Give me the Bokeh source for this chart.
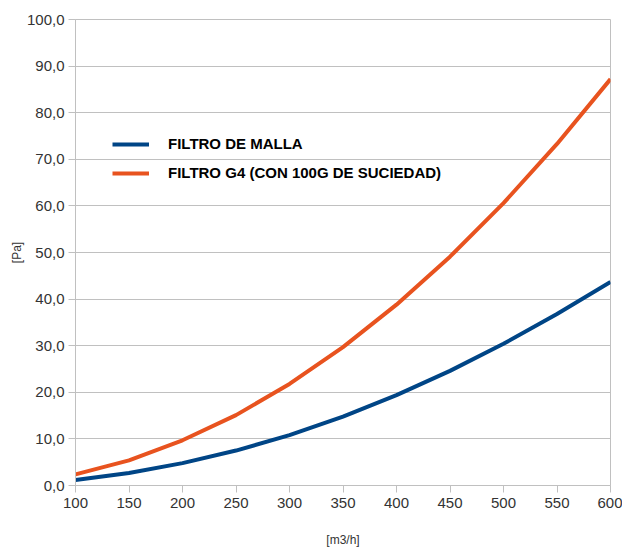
from bokeh.plotting import figure
from bokeh.models import FixedTicker, Range1d, Legend, LegendItem
from bokeh.embed import file_html
from bokeh.resources import INLINE

# ---- data ----
caudal = [100, 150, 200, 250, 300, 350, 400, 450, 500, 550, 600]
filtro_malla = [1.2, 2.7, 4.8, 7.5, 10.8, 14.8, 19.4, 24.6, 30.4, 36.8, 43.7]
filtro_g4 = [2.4, 5.4, 9.7, 15.1, 21.8, 29.7, 38.8, 49.1, 60.6, 73.3, 87.2]
series_names = ["FILTRO DE MALLA", "FILTRO G4 (CON 100G DE SUCIEDAD)"]
x_ticks = [100, 150, 200, 250, 300, 350, 400, 450, 500, 550, 600]
y_ticks = [0, 10, 20, 30, 40, 50, 60, 70, 80, 90, 100]
y_tick_labels = ["0,0", "10,0", "20,0", "30,0", "40,0", "50,0", "60,0",
                 "70,0", "80,0", "90,0", "100,0"]
x_label = "[m3/h]"
y_label = "[Pa]"

FONT = "Liberation Sans"
GRID = "#c0c0c0"
TXT = "#333333"

p = figure(width=622, height=550, output_backend="svg", toolbar_location=None,
           x_range=Range1d(100, 600), y_range=Range1d(0, 100),
           min_border_left=75, min_border_right=12, min_border_top=19,
           min_border_bottom=65)
p.background_fill_color = "white"
p.border_fill_color = "white"
p.outline_line_color = GRID
p.outline_line_width = 1

r1 = p.line(caudal, filtro_malla, line_color="#004586", line_width=4)
r2 = p.line(caudal, filtro_g4, line_color="#e8531f", line_width=4)

# axes
p.xaxis.ticker = FixedTicker(ticks=x_ticks)
p.yaxis.ticker = FixedTicker(ticks=y_ticks)
p.yaxis.major_label_overrides = {v: lab for v, lab in zip(y_ticks, y_tick_labels)}
for ax in (p.xaxis[0], p.yaxis[0]):
    ax.axis_line_color = GRID
    ax.major_tick_line_color = GRID
    ax.minor_tick_line_color = None
    ax.major_tick_in = 0
    ax.major_tick_out = 7
    ax.major_label_text_font = FONT
    ax.major_label_text_font_size = "15px"
    ax.major_label_text_color = TXT
    ax.axis_label_text_font = FONT
    ax.axis_label_text_font_size = "12px"
    ax.axis_label_text_font_style = "normal"
    ax.axis_label_text_color = TXT
p.xaxis.axis_label = x_label
p.yaxis.axis_label = y_label
p.xaxis.major_label_standoff = 5
p.yaxis.major_label_standoff = 4
p.xaxis.axis_label_standoff = 22
p.yaxis.axis_label_standoff = 0

p.xgrid.grid_line_color = None
p.ygrid.grid_line_color = GRID
p.ygrid.grid_line_width = 1

legend = Legend(items=[LegendItem(label=series_names[0], renderers=[r1]),
                       LegendItem(label=series_names[1], renderers=[r2])],
                location=(37, 304), orientation="vertical",
                margin=0, padding=0, spacing=12,
                glyph_width=37, glyph_height=16, label_standoff=19,
                label_text_font=FONT, label_text_font_size="15px",
                label_text_font_style="bold", label_text_color="black",
                border_line_alpha=0, background_fill_alpha=0)
p.add_layout(legend)

open("out.html", "w").write(file_html(p, INLINE))
